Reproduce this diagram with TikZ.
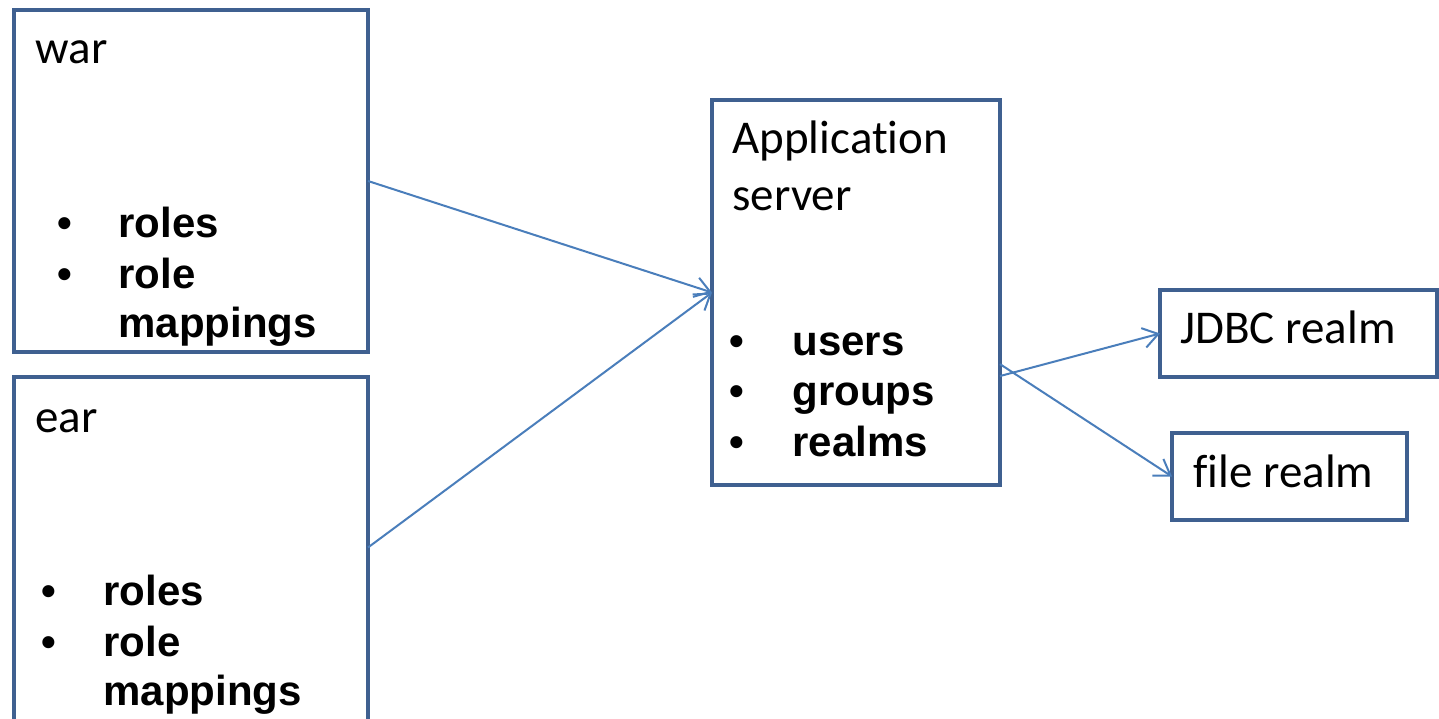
\documentclass[tikz,border=0pt]{standalone}
\usepackage{fontspec}
\setmainfont{Carlito}[Ligatures=CommonOff]
\newfontfamily\listfont{Liberation Sans}
\usetikzlibrary{arrows.meta,calc}
\definecolor{boxline}{HTML}{3F6090}
\definecolor{arrowline}{HTML}{4A7EBB}
\begin{document}
\begin{tikzpicture}[x=0.5pt,y=-0.5pt,
  box/.style={draw=boxline,line width=2.3pt,fill=white,rectangle,inner sep=0pt,outer sep=0pt,anchor=north west},
  title/.style={anchor=base west,inner sep=0pt,font=\fontsize{23.5pt}{28.5pt}\selectfont},
  item/.style={anchor=base west,inner sep=0pt,font=\listfont\bfseries\fontsize{21pt}{25pt}\selectfont},
  link/.style={draw=arrowline,line width=1pt,-{Straight Barb[length=7.5pt,width=10pt,line width=1pt]}}]
\clip (0,0) rectangle (1439,718);
\fill[white] (0,0) rectangle (1439,718);

% boxes
\node[box,minimum width=177pt,minimum height=171pt] (war) at (14,10) {};
\node[box,minimum width=177pt,minimum height=172.5pt] (ear) at (14,377) {};
\node[box,minimum width=144pt,minimum height=192.5pt] (app) at (712,100) {};
\node[box,minimum width=138.5pt,minimum height=43.5pt] (jdbc) at (1160,290) {};
\node[box,minimum width=117.5pt,minimum height=43.5pt] (file) at (1172,433) {};

% war contents
\node[title] (wart) at (35,63) {war};
\node[item] (war1) at (57,237) {\makebox[30.5pt][l]{•}roles};
\node[item] (war2) at (57,288) {\makebox[30.5pt][l]{•}role};
\node[item] (war3) at (118,337) {mappings};

% ear contents
\node[title] (eart) at (35,432) {ear};
\node[item] (ear1) at (41,605) {\makebox[31pt][l]{•}roles};
\node[item] (ear2) at (41,656) {\makebox[31pt][l]{•}role};
\node[item] (ear3) at (103,705) {mappings};

% application server contents
\node[title] (appt1) at (732,153) {Application};
\node[title] (appt2) at (732,210) {server};
\node[item] (app1) at (729,355) {\makebox[31.5pt][l]{•}users};
\node[item] (app2) at (729,405) {\makebox[31.5pt][l]{•}groups};
\node[item] (app3) at (729,456) {\makebox[31.5pt][l]{•}realms};

% realms
\node[title] (jdbct) at (1180,343) {JDBC realm};
\node[title] (filet) at (1193,487) {file realm};

% connectors
\coordinate (earA) at ($(ear.north east)!0.5!(ear.south east)+(0,-2)$);
\coordinate (appA) at ($(app.north east)!0.717!(app.south east)$);
\coordinate (appB) at ($(app.north east)!0.686!(app.south east)$);
\draw[link] (war.east) -- (app.west);
\draw[link] (earA) -- (app.west);
\draw[link] (appA) -- (jdbc.west);
\draw[link] (appB) -- (file.west);
\end{tikzpicture}
\end{document}
